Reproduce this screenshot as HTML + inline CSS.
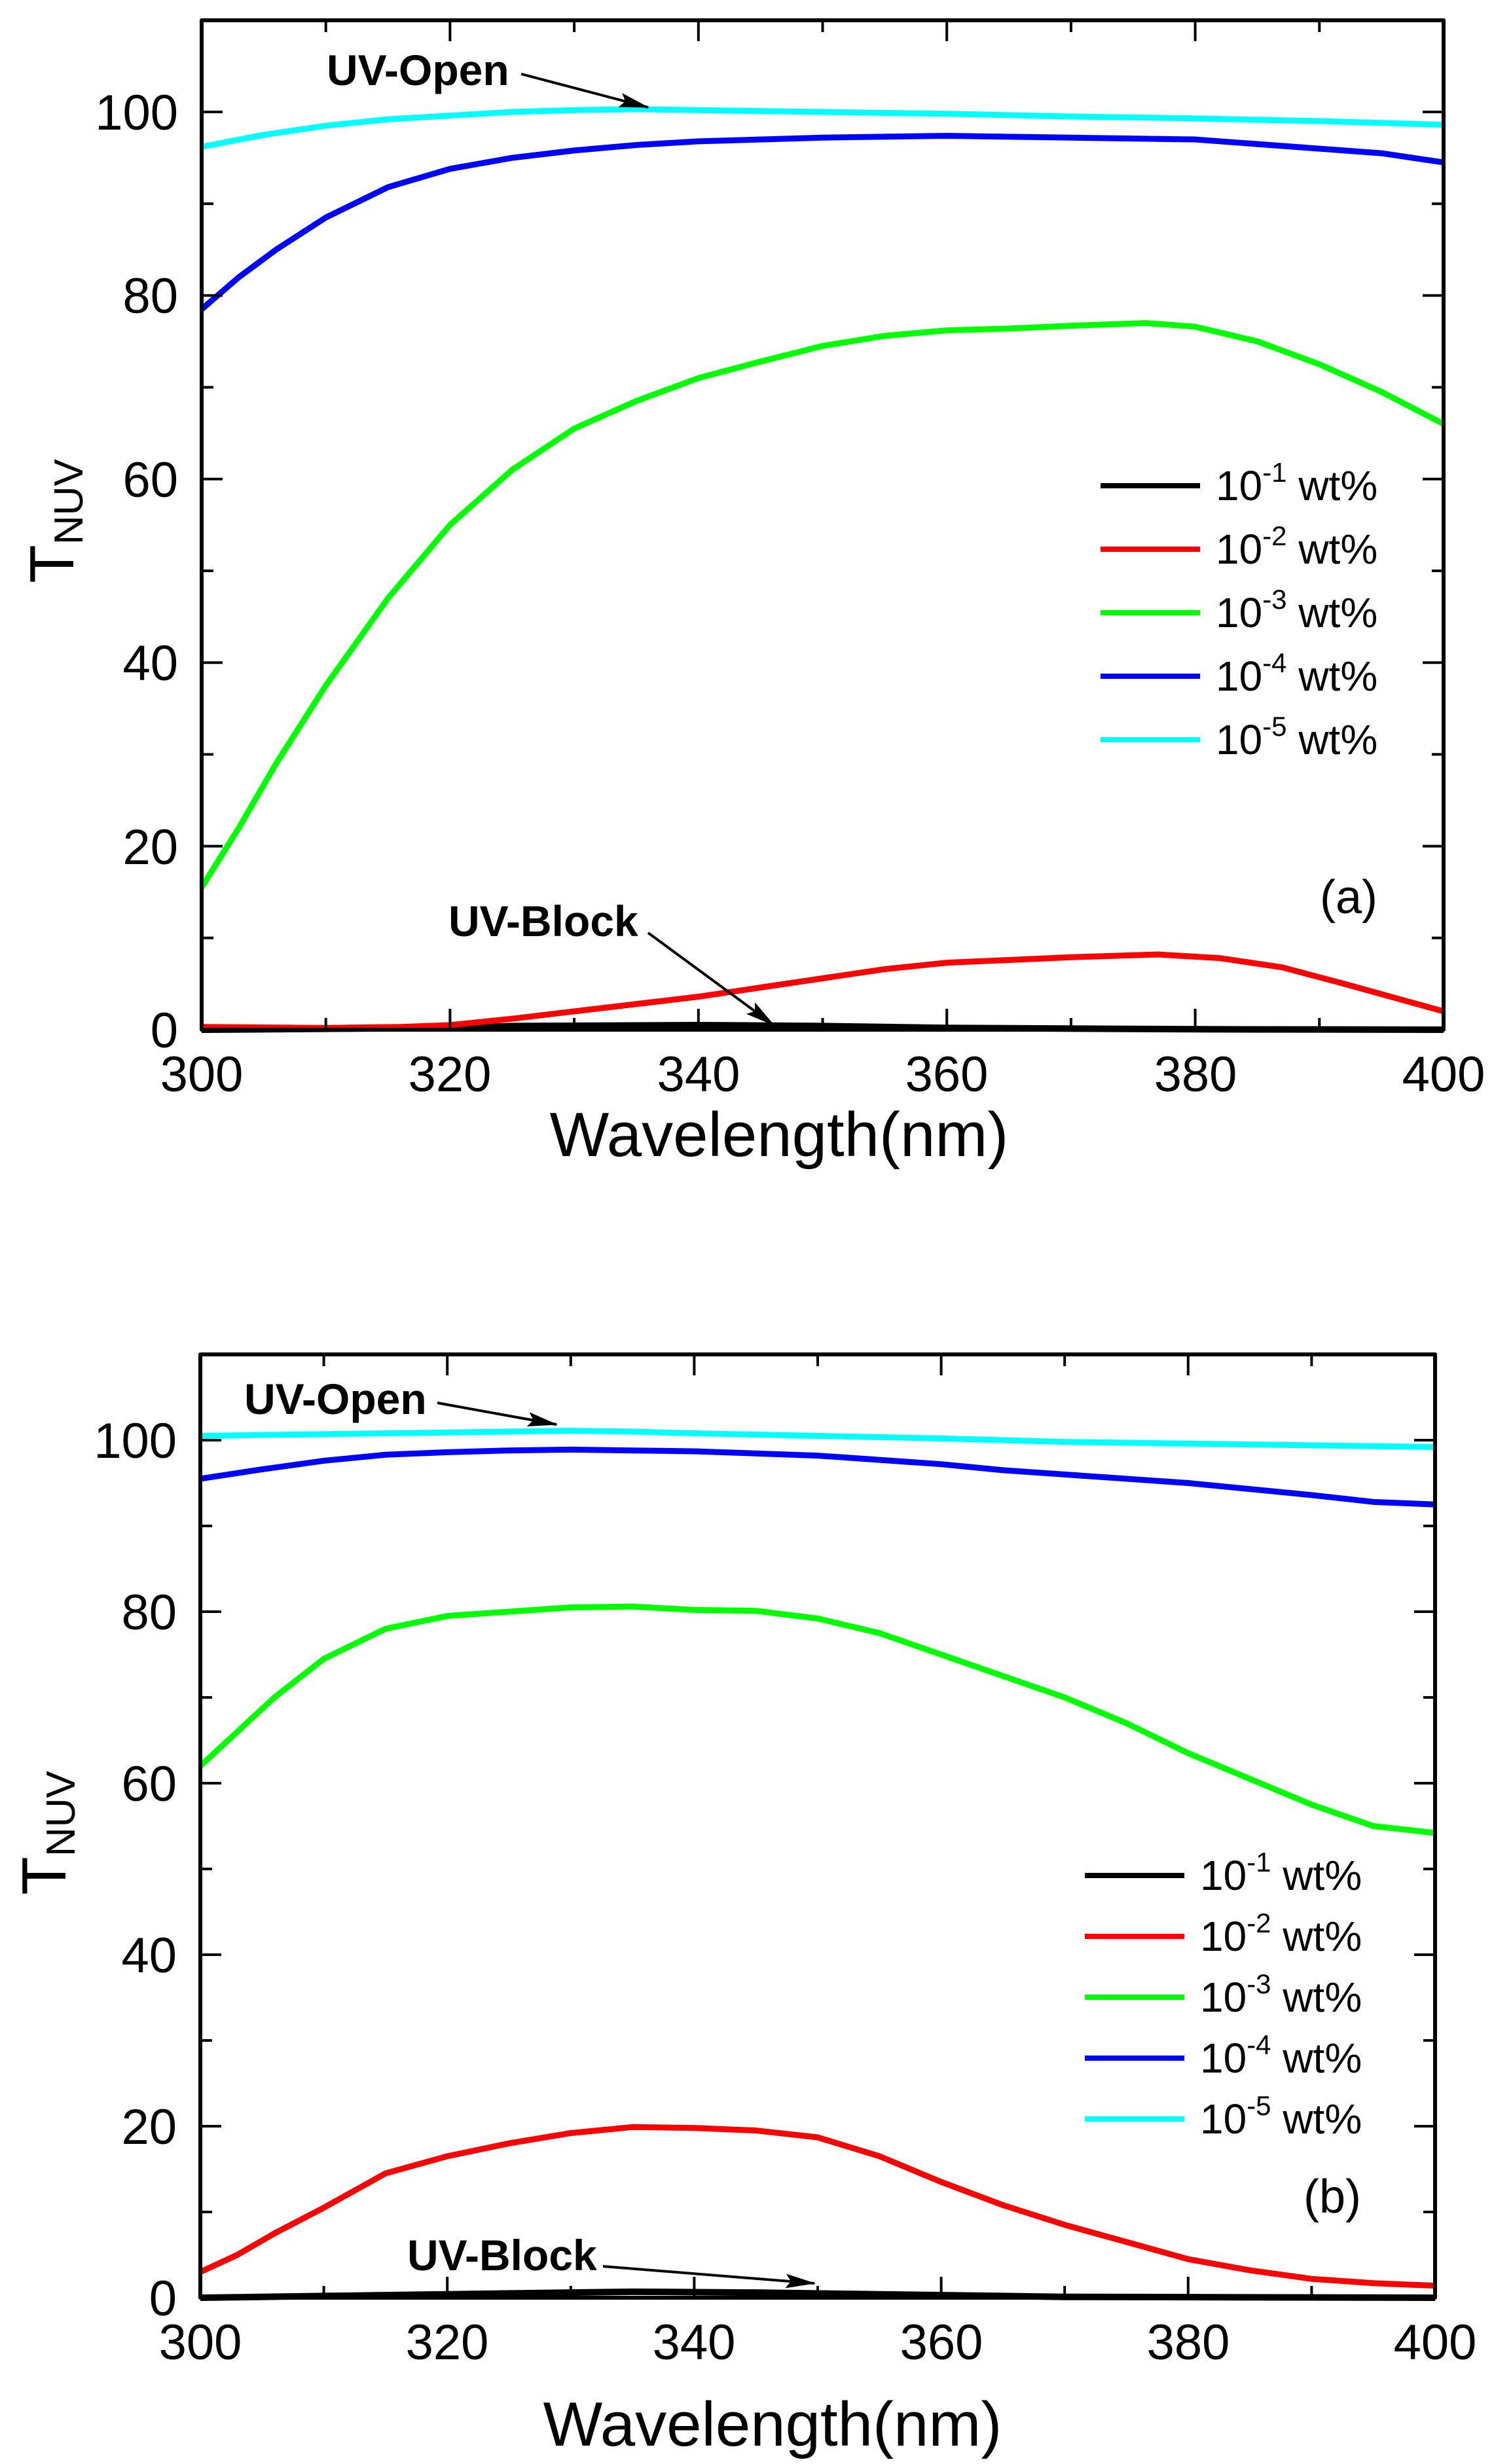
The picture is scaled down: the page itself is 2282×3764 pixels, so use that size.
<!DOCTYPE html>
<html><head><meta charset="utf-8"><style>
html,body{margin:0;padding:0;background:#fff}
svg{display:block}
text{font-family:"Liberation Sans",Arial,sans-serif;fill:#000}
.t{font-size:76px}
.lg{font-size:64px}
.an{font-size:66px;font-weight:bold}
</style></head><body>
<svg width="2282" height="3764" viewBox="0 0 2282 3764" xmlns="http://www.w3.org/2000/svg">
<defs>
<marker id="ah" markerWidth="46" markerHeight="22" refX="44" refY="11" orient="auto" markerUnits="userSpaceOnUse" viewBox="0 0 46 22"><path d="M0,0 L46,11 L0,22 L8,11 z" fill="#000"/></marker>
</defs>
<!-- ===== Plot A ===== -->
<g fill="none" stroke-linejoin="round">
<g transform="translate(308,1573) scale(18.97,-14.02) translate(-300,0)">
<polyline vector-effect="non-scaling-stroke" stroke="#000" stroke-width="10" points="300,0 320,0.2 325,0.4 340,0.5 350,0.4 360,0.2 380,0.05 400,0"/>
<polyline vector-effect="non-scaling-stroke" stroke="#ff0000" stroke-width="9" points="300,0.3 310,0.2 316,0.3 320,0.5 325,1.2 330,2 335,2.8 340,3.6 345,4.6 350,5.6 355,6.6 360,7.3 365,7.6 370,7.9 377,8.2 382,7.8 387,6.8 392,5 396,3.5 400,2"/>
<polyline vector-effect="non-scaling-stroke" stroke="#00ff00" stroke-width="9" points="300,15.5 303,22 306,29 310,37.5 315,47 320,55 325,61 330,65.5 335,68.5 340,71 345,72.8 350,74.5 355,75.6 360,76.2 365,76.4 370,76.7 376,77 380,76.6 385,75 390,72.5 395,69.5 400,66"/>
<polyline vector-effect="non-scaling-stroke" stroke="#0000ff" stroke-width="9" points="300,78.5 303,82 306,85 310,88.5 315,91.8 320,93.8 325,95 330,95.8 335,96.4 340,96.8 350,97.2 360,97.4 370,97.2 380,97 390,96 395,95.5 400,94.5"/>
<polyline vector-effect="non-scaling-stroke" stroke="#00ffff" stroke-width="9" points="300,96.2 305,97.5 310,98.5 315,99.2 320,99.6 325,100 330,100.2 335,100.3 340,100.2 350,100 360,99.8 370,99.5 380,99.3 390,99 400,98.6"/>
</g>
<rect x="308" y="31" width="1897" height="1542" stroke="#000" stroke-width="6"/>
<path stroke="#000" stroke-width="4" d="
M687.4,1573v-32 M1066.8,1573v-32 M1446.2,1573v-32 M1825.6,1573v-32
M497.7,1573v-18 M877.1,1573v-18 M1256.5,1573v-18 M1635.9,1573v-18 M2015.3,1573v-18
M687.4,31v32 M1066.8,31v32 M1446.2,31v32 M1825.6,31v32
M497.7,31v18 M877.1,31v18 M1256.5,31v18 M1635.9,31v18 M2015.3,31v18
M308,1292.6h32 M308,1012.2h32 M308,731.8h32 M308,451.4h32 M308,171h32
M308,1432.8h18 M308,1152.4h18 M308,872h18 M308,591.6h18 M308,311.2h18
M2205,1292.6h-32 M2205,1012.2h-32 M2205,731.8h-32 M2205,451.4h-32 M2205,171h-32
M2205,1432.8h-18 M2205,1152.4h-18 M2205,872h-18 M2205,591.6h-18 M2205,311.2h-18"/>
<path stroke="#000" stroke-width="8" d="M1681,742h152"/>
<path stroke="#ff0000" stroke-width="8" d="M1681,839h152"/>
<path stroke="#00ff00" stroke-width="8" d="M1681,936h152"/>
<path stroke="#0000ff" stroke-width="8" d="M1681,1033h152"/>
<path stroke="#00ffff" stroke-width="8" d="M1681,1130h152"/>
<path stroke="#000" stroke-width="4" marker-end="url(#ah)" d="M796,113 L990,164"/>
<path stroke="#000" stroke-width="4" marker-end="url(#ah)" d="M990,1425 L1182,1566"/>
</g>
<g class="t" text-anchor="middle">
<text x="308" y="1667">300</text><text x="687" y="1667">320</text><text x="1067" y="1667">340</text><text x="1446" y="1667">360</text><text x="1826" y="1667">380</text><text x="2205" y="1667">400</text>
</g>
<g class="t" text-anchor="end">
<text x="272" y="1600">0</text><text x="272" y="1320">20</text><text x="272" y="1039">40</text><text x="272" y="759">60</text><text x="272" y="478">80</text><text x="272" y="198">100</text>
</g>
<text x="1190" y="1766" text-anchor="middle" font-size="96">Wavelength(nm)</text>
<text transform="translate(112,796) rotate(-90)" text-anchor="middle" font-size="96">T<tspan font-size="62" dy="14">NUV</tspan></text>
<g class="lg">
<text x="1857" y="764">10<tspan font-size="42" dy="-28">-1</tspan><tspan dy="28"> wt%</tspan></text>
<text x="1857" y="861">10<tspan font-size="42" dy="-28">-2</tspan><tspan dy="28"> wt%</tspan></text>
<text x="1857" y="958">10<tspan font-size="42" dy="-28">-3</tspan><tspan dy="28"> wt%</tspan></text>
<text x="1857" y="1055">10<tspan font-size="42" dy="-28">-4</tspan><tspan dy="28"> wt%</tspan></text>
<text x="1857" y="1152">10<tspan font-size="42" dy="-28">-5</tspan><tspan dy="28"> wt%</tspan></text>
</g>
<text x="2060" y="1395" text-anchor="middle" font-size="72">(a)</text>
<text x="499" y="130" class="an">UV-Open</text>
<text x="685" y="1430" class="an">UV-Block</text>

<!-- ===== Plot B ===== -->
<g fill="none" stroke-linejoin="round">
<g transform="translate(306,3510) scale(18.86,-13.1) translate(-300,0)">
<polyline vector-effect="non-scaling-stroke" stroke="#000" stroke-width="10" points="300,0 320,0.4 335,0.7 345,0.6 355,0.4 370,0.1 400,0"/>
<polyline vector-effect="non-scaling-stroke" stroke="#ff0000" stroke-width="9" points="300,3 303,5 306,7.5 310,10.5 315,14.5 320,16.5 325,18 330,19.2 335,19.9 340,19.8 345,19.5 350,18.7 355,16.5 360,13.5 365,10.8 370,8.5 375,6.5 380,4.5 385,3.2 390,2.2 395,1.7 400,1.4"/>
<polyline vector-effect="non-scaling-stroke" stroke="#00ff00" stroke-width="9" points="300,62 303,66 306,70 310,74.5 315,78 320,79.5 325,80 330,80.5 335,80.6 340,80.2 345,80.1 350,79.2 355,77.5 360,75 365,72.5 370,70 375,67 380,63.5 385,60.5 390,57.5 395,55 400,54.2"/>
<polyline vector-effect="non-scaling-stroke" stroke="#0000ff" stroke-width="9" points="300,95.5 305,96.6 310,97.6 315,98.3 320,98.6 325,98.8 330,98.9 335,98.8 340,98.7 350,98.2 360,97.2 365,96.5 370,96 380,95 390,93.6 395,92.8 400,92.5"/>
<polyline vector-effect="non-scaling-stroke" stroke="#00ffff" stroke-width="9" points="300,100.5 310,100.7 320,100.9 330,101.1 335,101 340,100.8 350,100.5 360,100.2 370,99.8 380,99.6 390,99.4 400,99.2"/>
</g>
<rect x="306" y="2069" width="1886" height="1441" stroke="#000" stroke-width="6"/>
<path stroke="#000" stroke-width="4" d="
M683.2,3510v-32 M1060.4,3510v-32 M1437.6,3510v-32 M1814.8,3510v-32
M494.6,3510v-18 M871.8,3510v-18 M1249,3510v-18 M1626.2,3510v-18 M2003.4,3510v-18
M683.2,2069v32 M1060.4,2069v32 M1437.6,2069v32 M1814.8,2069v32
M494.6,2069v18 M871.8,2069v18 M1249,2069v18 M1626.2,2069v18 M2003.4,2069v18
M306,3248h32 M306,2986h32 M306,2724h32 M306,2462h32 M306,2200h32
M306,3379h18 M306,3117h18 M306,2855h18 M306,2593h18 M306,2331h18
M2192,3248h-32 M2192,2986h-32 M2192,2724h-32 M2192,2462h-32 M2192,2200h-32
M2192,3379h-18 M2192,3117h-18 M2192,2855h-18 M2192,2593h-18 M2192,2331h-18"/>
<path stroke="#000" stroke-width="8" d="M1657,2865h152"/>
<path stroke="#ff0000" stroke-width="8" d="M1657,2958h152"/>
<path stroke="#00ff00" stroke-width="8" d="M1657,3051h152"/>
<path stroke="#0000ff" stroke-width="8" d="M1657,3144h152"/>
<path stroke="#00ffff" stroke-width="8" d="M1657,3237h152"/>
<path stroke="#000" stroke-width="4" marker-end="url(#ah)" d="M668,2143 L850,2176"/>
<path stroke="#000" stroke-width="4" marker-end="url(#ah)" d="M921,3462 L1244,3488"/>
</g>
<g class="t" text-anchor="middle">
<text x="306" y="3604">300</text><text x="683" y="3604">320</text><text x="1060" y="3604">340</text><text x="1438" y="3604">360</text><text x="1815" y="3604">380</text><text x="2192" y="3604">400</text>
</g>
<g class="t" text-anchor="end">
<text x="270" y="3537">0</text><text x="270" y="3275">20</text><text x="270" y="3013">40</text><text x="270" y="2751">60</text><text x="270" y="2489">80</text><text x="270" y="2227">100</text>
</g>
<text x="1180" y="3736" text-anchor="middle" font-size="96">Wavelength(nm)</text>
<text transform="translate(100,2800) rotate(-90)" text-anchor="middle" font-size="96">T<tspan font-size="62" dy="14">NUV</tspan></text>
<g class="lg">
<text x="1833" y="2887">10<tspan font-size="42" dy="-28">-1</tspan><tspan dy="28"> wt%</tspan></text>
<text x="1833" y="2980">10<tspan font-size="42" dy="-28">-2</tspan><tspan dy="28"> wt%</tspan></text>
<text x="1833" y="3073">10<tspan font-size="42" dy="-28">-3</tspan><tspan dy="28"> wt%</tspan></text>
<text x="1833" y="3166">10<tspan font-size="42" dy="-28">-4</tspan><tspan dy="28"> wt%</tspan></text>
<text x="1833" y="3259">10<tspan font-size="42" dy="-28">-5</tspan><tspan dy="28"> wt%</tspan></text>
</g>
<text x="2035" y="3380" text-anchor="middle" font-size="72">(b)</text>
<text x="373" y="2160" class="an">UV-Open</text>
<text x="622" y="3468" class="an">UV-Block</text>
</svg>
</body></html>
